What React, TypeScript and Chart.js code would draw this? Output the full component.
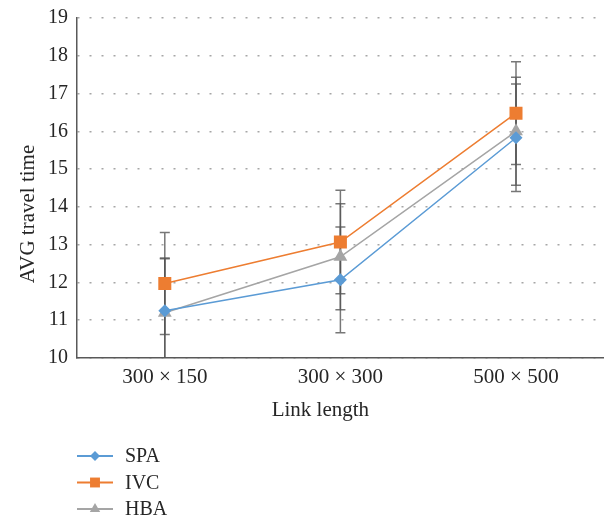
import React, { useEffect, useRef } from 'react';
import { Chart, registerables } from 'chart.js';
import { drawPoint } from 'chart.js/helpers';

Chart.register(...registerables);

const categories = ['300 × 150', '300 × 300', '500 × 500'];
const seriesLabels = ['SPA', 'IVC', 'HBA'];
const spaValues = [11.25, 12.07, 15.83];
const ivcValues = [11.97, 13.07, 16.48];
const hbaValues = [11.2, 12.68, 16.0];
const spaErrors = [1.4, 1.4, 1.42];
const ivcErrors = [1.35, 1.37, 1.36];
const hbaErrors = [1.43, 1.4, 1.43];
const yMin = 10;
const yMax = 19;
const yStep = 1;
const xTitle = 'Link length';
const yTitle = 'AVG travel time';

const colors = ['#5B9BD5', '#ED7D31', '#A5A5A5'];
const pointStyles = ['rectRot', 'rect', 'triangle'];
const pointRadii = [6.5, 9.2, 8];
const legendRadii = [5, 7, 6];
const errorSets = [spaErrors, ivcErrors, hbaErrors];
const valueSets = [spaValues, ivcValues, hbaValues];

const FONT = '"Liberation Serif", "Times New Roman", serif';
const TEXT = '#262626';

const errorBarPlugin = {
  id: 'errorBars',
  beforeDatasetsDraw(chart: any) {
    const { ctx, chartArea, scales } = chart;
    const y = scales.y;
    ctx.save();
    ctx.beginPath();
    ctx.rect(chartArea.left, chartArea.top - 1, chartArea.right - chartArea.left, chartArea.bottom - chartArea.top + 1);
    ctx.clip();
    ctx.strokeStyle = 'rgba(85,85,85,0.8)';
    ctx.lineWidth = 1.5;
    chart.data.datasets.forEach((ds: any, i: number) => {
      const meta = chart.getDatasetMeta(i);
      const errs = errorSets[i];
      meta.data.forEach((pt: any, j: number) => {
        const v = ds.data[j];
        const e = errs[j];
        const top = y.getPixelForValue(v + e);
        const bot = y.getPixelForValue(v - e);
        ctx.beginPath();
        ctx.moveTo(pt.x, top);
        ctx.lineTo(pt.x, bot);
        ctx.moveTo(pt.x - 5, top);
        ctx.lineTo(pt.x + 5, top);
        ctx.moveTo(pt.x - 5, bot);
        ctx.lineTo(pt.x + 5, bot);
        ctx.stroke();
      });
    });
    ctx.restore();
  },
};

const titlesAndLegendPlugin = {
  id: 'titlesAndLegend',
  afterDraw(chart: any) {
    const { ctx, chartArea } = chart;
    ctx.save();
    ctx.fillStyle = TEXT;
    ctx.textBaseline = 'middle';
    ctx.textAlign = 'center';
    ctx.font = `21px ${FONT}`;
    // x axis title
    ctx.fillText(xTitle, (chartArea.left + chartArea.right) / 2 - 20, chartArea.bottom + 52);
    // y axis title (rotated)
    ctx.save();
    ctx.translate(28, (chartArea.top + chartArea.bottom) / 2 + 26);
    ctx.rotate(-Math.PI / 2);
    ctx.fillText(yTitle, 0, 0);
    ctx.restore();
    // legend
    ctx.font = `20px ${FONT}`;
    ctx.textAlign = 'left';
    chart.data.datasets.forEach((ds: any, i: number) => {
      const yy = chartArea.bottom + 98 + i * 26.5;
      const x0 = chartArea.left;
      ctx.strokeStyle = ds.borderColor;
      ctx.lineWidth = 2;
      ctx.beginPath();
      ctx.moveTo(x0, yy);
      ctx.lineTo(x0 + 36, yy);
      ctx.stroke();
      ctx.fillStyle = ds.backgroundColor;
      drawPoint(ctx, { pointStyle: ds.pointStyle, radius: legendRadii[i], borderWidth: 0, rotation: 0 } as any, x0 + 18, yy);
      ctx.fillStyle = TEXT;
      ctx.fillText(ds.label, x0 + 48, yy + 1);
    });
    ctx.restore();
  },
};

export default function App() {
  const canvasRef = useRef<HTMLCanvasElement | null>(null);

  useEffect(() => {
    if (!canvasRef.current) return;
    const chart = new Chart(canvasRef.current, {
      type: 'line',
      data: {
        labels: categories,
        datasets: seriesLabels.map((label, i) => ({
          label,
          data: valueSets[i],
          borderColor: colors[i],
          backgroundColor: colors[i],
          borderWidth: 1.5,
          pointStyle: pointStyles[i] as any,
          pointRadius: pointRadii[i],
          pointBorderWidth: 0,
          pointBackgroundColor: colors[i],
          tension: 0,
          fill: false,
        })),
      },
      options: {
        animation: false,
        responsive: true,
        maintainAspectRatio: false,
        layout: { padding: { top: 14, right: 6, bottom: 122, left: 0 } },
        plugins: {
          legend: { display: false },
          tooltip: { enabled: false },
        },
        scales: {
          x: {
            type: 'category',
            offset: true,
            grid: { display: false, drawTicks: false },
            border: { display: true, color: '#595959', width: 1.5 },
            ticks: { color: TEXT, font: { family: FONT, size: 21 }, padding: 7 },
            afterFit: (s: any) => {
              s.height = 40;
            },
          },
          y: {
            min: yMin,
            max: yMax,
            ticks: { stepSize: yStep, color: TEXT, font: { family: FONT, size: 20, lineHeight: 0.9 }, padding: 9 },
            grid: { color: '#a6a6a6', lineWidth: 1.5, drawTicks: false },
            border: { display: true, color: '#595959', width: 1.5, dash: [2, 10] },
            afterFit: (s: any) => {
              s.width = 77;
            },
          },
        },
      },
      plugins: [errorBarPlugin, titlesAndLegendPlugin],
    });
    return () => chart.destroy();
  }, []);

  return (
    <div style={{ position: 'absolute', left: 0, top: 0, width: 613, height: 520 }}>
      <canvas ref={canvasRef} />
    </div>
  );
}
